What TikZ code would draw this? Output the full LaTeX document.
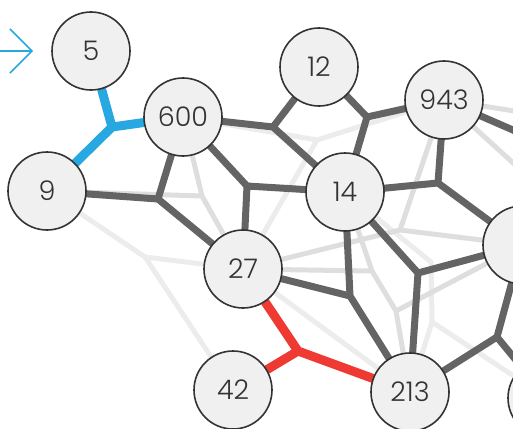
\documentclass[tikz,border=0pt]{standalone}
\usepackage{fontspec}
\setmainfont{Poppins}[UprightFont=* Light]
\usetikzlibrary{arrows.meta}
\definecolor{edgedark}{HTML}{646464}
\definecolor{edgelight}{HTML}{DEDEDE}
\definecolor{edgefaint}{HTML}{ECECEC}
\definecolor{treeblue}{HTML}{27A8E0}
\definecolor{treered}{HTML}{EE3A33}
\definecolor{nodefill}{HTML}{F0F0F0}
\definecolor{nodeline}{HTML}{333333}
\pgfdeclarelayer{edges}
\pgfsetlayers{edges,main}
\begin{document}
\begin{tikzpicture}[x=1pt,y=-1pt,
  vert/.style={circle, draw=nodeline, line width=1.6pt, fill=nodefill,
    minimum size=78pt, inner sep=0pt, text=nodeline,
    font=\fontsize{27}{27}\selectfont},
  dark/.style={draw=edgedark, line width=7pt, line cap=round},
  light/.style={draw=edgelight, line width=5pt, line cap=round},
  faint/.style={draw=edgefaint, line width=5pt, line cap=round},
  bluetree/.style={draw=treeblue, line width=9pt, line cap=round},
  redtree/.style={draw=treered, line width=9pt, line cap=round},
  pointer/.style={draw=treeblue, line width=1.5pt,
    -{Straight Barb[length=22pt,width=44pt]}}
]
\useasboundingbox (0,0) rectangle (513,428);

% vertices
\node[vert] (v5)   at (91,51)   {5};
\node[vert] (v600) at (183,117) {600};
\node[vert] (v9)   at (47,191)  {9};
\node[vert] (v12)  at (319,67)  {12};
\node[vert] (v943) at (444,100) {943};
\node[vert] (v14)  at (345,192) {14};
\node[vert] (v27)  at (243,269) {27};
\node[vert] (v42)  at (233,390) {42};
\node[vert] (v213) at (410,392) {213};
\node[vert] (vr)   at (522,245) {};
\node[vert] (vbr)  at (547,398) {};

% Steiner points of the trees
\coordinate (sb) at (112,127);
\coordinate (sr) at (298,351);
\coordinate (jA) at (273,127);
\coordinate (jB) at (367,117);
\coordinate (jC) at (158,199);
\coordinate (jD) at (247,186);
\coordinate (jE) at (438,183);
\coordinate (jF) at (350,296);
\coordinate (jG) at (418,273);
\coordinate (jH) at (497,337);
\coordinate (lP1) at (202,196);
\coordinate (lP2) at (145,257);
\coordinate (lQ1) at (317,140);
\coordinate (lR1) at (400,230);
\coordinate (lS1) at (372,271);
\coordinate (lS2) at (396,311);
\coordinate (lV1) at (431,262);
\coordinate (lV2) at (432,322);
\coordinate (offA) at (540,115);
\coordinate (offB) at (545,192);
\coordinate (offC) at (545,144);
\coordinate (arrowfrom) at (-4,51);
\coordinate (arrowto) at (33,51);

\begin{pgfonlayer}{edges}
  % faded trees in the background
  \draw[faint] (lP2) -- (v9)  (lP2) -- (v27)  (lP2) -- (v42);
  \draw[faint] (lQ1) -- (v600) (lQ1) -- (v27) (lQ1) -- (v943);
  \draw[faint] (lV1) -- (v14) (lV1) -- (lV2) (lV2) -- (v213) (lV2) -- (vbr);
  \draw[faint] (v27) -- (v213);
  \draw[light] (lP1) -- (v600) (lP1) -- (v9) (lP1) -- (v27);
  \draw[light] (lR1) -- (v27) (lR1) -- (v943) (lR1) -- (vr);
  \draw[light] (lS1) -- (v27) (lS1) -- (v14) (lS1) -- (lS2)
               (lS2) -- (v213) (lS2) -- (vr);
  \draw[light] (v943) -- (offA)  (v943) -- (offB);

  % main tree
  \draw[dark] (jA) -- (v600) (jA) -- (v12) (jA) -- (v14);
  \draw[dark] (jB) -- (v12) (jB) -- (v943) (jB) -- (v14);
  \draw[dark] (jC) -- (v9) (jC) -- (v600) (jC) -- (v27);
  \draw[dark] (jD) -- (v600) (jD) -- (v14) (jD) -- (v27);
  \draw[dark] (jE) -- (v14) (jE) -- (v943) (jE) -- (vr);
  \draw[dark] (jF) -- (v27) (jF) -- (v14) (jF) -- (v213);
  \draw[dark] (jG) -- (v14) (jG) -- (vr) (jG) -- (v213);
  \draw[dark] (jH) -- (vr) (jH) -- (v213) (jH) -- (vbr);
  \draw[dark] (v943) -- (offC);

  % highlighted trees
  \draw[bluetree] (sb) -- (v5) (sb) -- (v600) (sb) -- (v9);
  \draw[redtree] (sr) -- (v27) (sr) -- (v42) (sr) -- (v213);
\end{pgfonlayer}

% entry pointer
\draw[pointer] (arrowfrom) -- (arrowto);
\end{tikzpicture}
\end{document}
